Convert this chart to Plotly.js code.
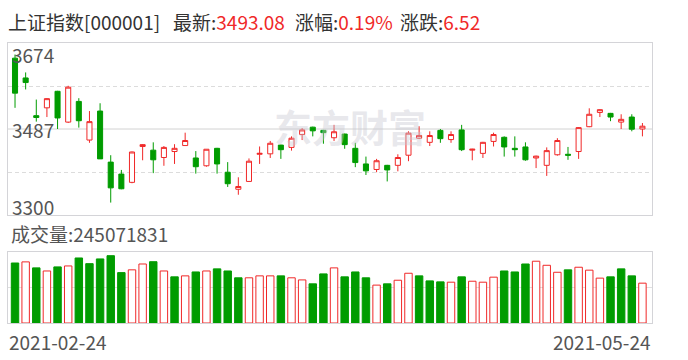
<!DOCTYPE html>
<html>
<head>
<meta charset="utf-8">
<script src="https://cdn.plot.ly/plotly-3.0.1.min.js"></script>
<style>
html,body{margin:0;padding:0;background:#fff;}
#chart{width:688px;height:360px;}
</style>
</head>
<body>
<div id="chart"></div>
<script>
// ---- data ----
const dates = ['2021-02-24','2021-02-25','2021-02-26',
 '2021-03-01','2021-03-02','2021-03-03','2021-03-04','2021-03-05','2021-03-08','2021-03-09','2021-03-10','2021-03-11','2021-03-12',
 '2021-03-15','2021-03-16','2021-03-17','2021-03-18','2021-03-19','2021-03-22','2021-03-23','2021-03-24','2021-03-25','2021-03-26',
 '2021-03-29','2021-03-30','2021-03-31','2021-04-01','2021-04-02','2021-04-06','2021-04-07','2021-04-08','2021-04-09',
 '2021-04-12','2021-04-13','2021-04-14','2021-04-15','2021-04-16','2021-04-19','2021-04-20','2021-04-21','2021-04-22','2021-04-23',
 '2021-04-26','2021-04-27','2021-04-28','2021-04-29','2021-04-30','2021-05-06','2021-05-07','2021-05-10','2021-05-11','2021-05-12',
 '2021-05-13','2021-05-14','2021-05-17','2021-05-18','2021-05-19','2021-05-20','2021-05-21','2021-05-24'];
const openP  = [3641,3598,3516,3533,3569,3502,3547,3463,3526,3415,3389,3371,3449,3441,3425,3438,3451,3424,3407,3445,
                3393,3356,3373,3432,3433,3452,3447,3475,3491,3484,3468,3476,3445,3411,3399,3408,3408,3430,3467,3458,
                3484,3464,3485,3441,3434,3460,3469,3445,3448,3424,3408,3431,3432,3438,3492,3523,3521,3502,3513,3487];
const highP  = [3649,3610,3551,3554,3570,3581,3554,3526,3543,3430,3398,3438,3454,3458,3450,3454,3479,3439,3443,3446,
                3415,3382,3423,3449,3461,3453,3471,3489,3492,3485,3496,3477,3457,3427,3422,3409,3432,3482,3493,3482,
                3487,3482,3496,3444,3459,3479,3471,3471,3458,3429,3447,3467,3448,3491,3532,3530,3522,3519,3519,3500];
const lowP   = [3533,3573,3503,3513,3487,3500,3490,3457,3422,3327,3356,3369,3419,3391,3407,3411,3451,3390,3405,3390,
                3361,3344,3372,3411,3424,3422,3440,3463,3471,3455,3461,3444,3404,3387,3393,3373,3395,3417,3465,3450,
                3457,3457,3439,3419,3424,3449,3427,3427,3418,3402,3385,3429,3420,3422,3491,3513,3504,3487,3482,3471];
const closeP = [3565,3588,3512,3553,3511,3578,3505,3503,3422,3359,3357,3437,3453,3420,3447,3445,3462,3405,3443,3411,
                3368,3362,3417,3434,3456,3442,3467,3485,3483,3479,3481,3453,3414,3396,3418,3398,3425,3478,3472.9,3472.8,
                3466,3475,3442,3443,3458,3475,3448,3442,3420,3428,3440,3462,3430,3490,3519,3529,3513,3508,3486.56,3493.08];
const volume = [369e6,376e6,339e6,320e6,345e6,351e6,400e6,365e6,394e6,414e6,310e6,327e6,363e6,377e6,320e6,284e6,290e6,314e6,320e6,333e6,
                320e6,278e6,278e6,290e6,290e6,290e6,278e6,265e6,241e6,302e6,339e6,284e6,314e6,278e6,233e6,241e6,263e6,306e6,290e6,259e6,
                253e6,251e6,284e6,257e6,251e6,282e6,320e6,314e6,363e6,380e6,355e6,312e6,327e6,343e6,325e6,276e6,284e6,333e6,290e6,245071831];
const priceTicks = [3300, 3487, 3674];
const indexName = '上证指数[000001]';
const latestLabel = '最新:', changePctLabel = '涨幅:', changeLabel = '涨跌:', volLabel = '成交量:';
const latest = '3493.08', changePct = '0.19%', change = '6.52';
const watermark = '东方财富';

// ---- styles ----
const RED = '#f02828', GREEN = '#009c00';
const FONT = '"Noto Sans CJK SC", "Noto Sans", sans-serif';
const idx = dates.map((d, i) => i);
const volColors = volume.map((v, i) => {
  const prev = i === 0 ? openP[0] : closeP[i - 1];
  return closeP[i] >= prev ? RED : GREEN;
});

// pixel helpers for placement of text (plot area: x 8..651.7, y 43..323)
const L = 8, R = 651.7, T = 43, B = 323;
const px = x => (x - L) / (R - L);
const py = y => (B - y) / (B - T);

const traces = [
  {
    type: 'candlestick', x: idx, open: openP, high: highP, low: lowP, close: closeP,
    xaxis: 'x', yaxis: 'y', whiskerwidth: 0, hoverinfo: 'skip',
    increasing: {line: {color: RED, width: 1}, fillcolor: '#ffffff'},
    decreasing: {line: {color: GREEN, width: 1}, fillcolor: GREEN}
  },
  {
    type: 'bar', x: idx, y: volume, xaxis: 'x2', yaxis: 'y2', width: 0.7, hoverinfo: 'skip',
    marker: {
      color: volColors.map(c => c === RED ? '#ffffff' : GREEN),
      line: {color: volColors, width: 1}
    }
  }
];

const axisLine = '#d4d4d8';
const xbase = {range: [-0.66, 59.9], showgrid: false, zeroline: false, showticklabels: false, ticks: '',
  showline: true, mirror: true, linecolor: axisLine, linewidth: 1, fixedrange: true};

const annotations = [
  {text: '<b>' + watermark + '</b>', x: px(350), y: py(126), xanchor: 'center', yanchor: 'middle', font: {size: 38, color: 'rgba(200,200,210,0.42)'}},
  {text: indexName, x: px(7), y: py(21), xanchor: 'left', yanchor: 'middle', font: {size: 19, color: '#333'}},
  {text: latestLabel + '<span style="color:' + RED + '">' + latest + '</span>', x: px(172), y: py(21), xanchor: 'left', yanchor: 'middle', font: {size: 19, color: '#333'}},
  {text: changePctLabel + '<span style="color:' + RED + '">' + changePct + '</span>', x: px(294), y: py(21), xanchor: 'left', yanchor: 'middle', font: {size: 19, color: '#333'}},
  {text: changeLabel + '<span style="color:' + RED + '">' + change + '</span>', x: px(399), y: py(21), xanchor: 'left', yanchor: 'middle', font: {size: 19, color: '#333'}},
  {text: volLabel + volume[volume.length - 1], x: px(10), y: py(233), xanchor: 'left', yanchor: 'middle', font: {size: 19, color: '#555'}},
  {text: dates[0], x: px(8), y: py(341), xanchor: 'left', yanchor: 'middle', font: {size: 19, color: '#555'}},
  {text: dates[dates.length - 1], x: px(652), y: py(341), xanchor: 'right', yanchor: 'middle', font: {size: 19, color: '#555'}},
  {text: String(priceTicks[2]), xref: 'paper', x: px(11), yref: 'y', y: priceTicks[2], yshift: -11, xanchor: 'left', yanchor: 'middle', font: {size: 19, color: '#555'}},
  {text: String(priceTicks[1]), xref: 'paper', x: px(11), yref: 'y', y: priceTicks[1], xanchor: 'left', yanchor: 'middle', font: {size: 19, color: '#555'}},
  {text: String(priceTicks[0]), xref: 'paper', x: px(11), yref: 'y', y: priceTicks[0], yshift: 9, xanchor: 'left', yanchor: 'middle', font: {size: 19, color: '#555'}}
].map(a => Object.assign({xref: 'paper', yref: 'paper', showarrow: false, borderpad: 0}, a));

const layout = {
  width: 688, height: 360,
  margin: {l: L, r: 688 - R, t: T, b: 360 - B},
  paper_bgcolor: '#ffffff', plot_bgcolor: '#ffffff',
  font: {family: FONT, size: 19, color: '#555'},
  showlegend: false, boxgap: 0.32, bargap: 0.3,
  xaxis: Object.assign({}, xbase, {anchor: 'y', rangeslider: {visible: false}}),
  xaxis2: Object.assign({}, xbase, {anchor: 'y2', matches: 'x'}),
  yaxis: {domain: [py(215), 1], range: [priceTicks[0], priceTicks[2]],
    tickvals: [(priceTicks[0] + priceTicks[1]) / 2, (priceTicks[1] + priceTicks[2]) / 2],
    showgrid: true, gridcolor: '#dcdcdc', griddash: '4px,3px', gridwidth: 1,
    zeroline: false, showticklabels: false, ticks: '',
    showline: true, mirror: true, linecolor: axisLine, linewidth: 1, fixedrange: true},
  yaxis2: {domain: [0, py(251.7)], range: [0, 438.6e6], tickvals: [219.3e6],
    showgrid: true, gridcolor: '#e0e0e0', gridwidth: 1,
    zeroline: false, showticklabels: false, ticks: '',
    showline: true, mirror: true, linecolor: axisLine, linewidth: 1, fixedrange: true},
  shapes: [
    {type: 'line', xref: 'paper', x0: 0, x1: 1, yref: 'y', y0: priceTicks[1], y1: priceTicks[1],
     line: {color: '#d2d2d2', width: 1}, layer: 'below'}
  ],
  annotations: annotations
};

Plotly.newPlot('chart', traces, layout, {staticPlot: true, displayModeBar: false});
</script>
</body>
</html>
